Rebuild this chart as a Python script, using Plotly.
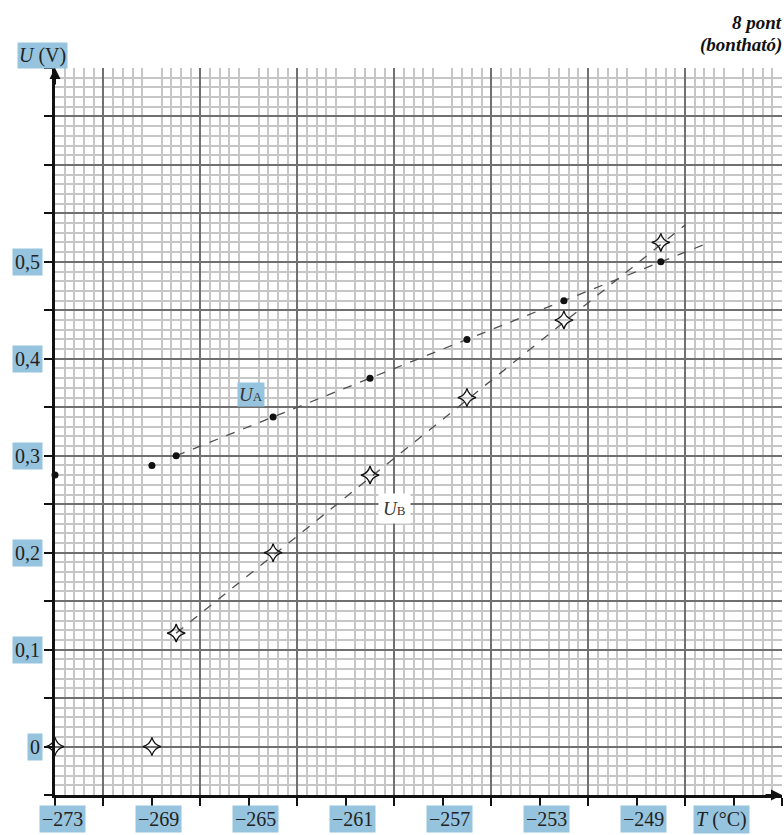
import plotly.graph_objects as go

# ---- data ----
T_A = [-273, -269, -268, -264, -260, -256, -252, -248]
U_A = [0.28, 0.29, 0.30, 0.34, 0.38, 0.42, 0.46, 0.50]
T_B = [-273, -269, -268, -264, -260, -256, -252, -248]
U_B = [0.0, 0.0, 0.117, 0.20, 0.28, 0.36, 0.44, 0.52]
fitA_T = [-268, -246]
fitA_U = [0.30, 0.52]
fitB_T = [-268, -247]
fitB_U = [0.117, 0.538]
x_label_vals = [-273, -269, -265, -261, -257, -253, -249]
x_label_text = ["\u2212273", "\u2212269", "\u2212265", "\u2212261", "\u2212257", "\u2212253", "\u2212249"]
y_label_vals = [0, 0.1, 0.2, 0.3, 0.4, 0.5]
y_label_text = ["0", "0,1", "0,2", "0,3", "0,4", "0,5"]

SERIF = "'Times New Roman', 'Liberation Serif', 'DejaVu Serif', serif"
HL = "rgb(150,196,222)"
LIGHT = "#c6c6c6"
DARK = "#707070"

fig = go.Figure()

fig.add_trace(go.Scatter(x=fitA_T, y=fitA_U, mode="lines",
                         line=dict(color="#505050", width=1.3, dash="dash"), showlegend=False))
fig.add_trace(go.Scatter(x=fitB_T, y=fitB_U, mode="lines",
                         line=dict(color="#505050", width=1.3, dash="dash"), showlegend=False))
fig.add_trace(go.Scatter(x=T_A, y=U_A, mode="markers", cliponaxis=False,
                         marker=dict(symbol="circle", size=7, color="#111"), showlegend=False))
fig.add_trace(go.Scatter(x=T_B, y=U_B, mode="markers", cliponaxis=False,
                         marker=dict(symbol="star-diamond-open", size=13, color="#111",
                                     line=dict(width=1.3, color="#111")), showlegend=False))
# invisible trace on the overlay axis so its grid is drawn
fig.add_trace(go.Scatter(x=fitA_T, y=fitA_U, xaxis="x2", mode="markers",
                         marker=dict(opacity=0), hoverinfo="skip", showlegend=False))

annotations = []
for v, t in zip(x_label_vals, x_label_text):
    annotations.append(dict(x=v, y=0, xref="x", yref="paper", text=t, showarrow=False,
                            xanchor="center", yanchor="top", xshift=7, yshift=-10,
                            bgcolor=HL, borderpad=2,
                            font=dict(family=SERIF, size=20, color="#222")))
annotations.append(dict(x=-245.5, y=0, xref="x", yref="paper",
                        text="<i>T</i> (°C)", showarrow=False,
                        xanchor="center", yanchor="top", yshift=-10,
                        bgcolor=HL, borderpad=2, font=dict(family=SERIF, size=20, color="#222")))
for v, t in zip(y_label_vals, y_label_text):
    annotations.append(dict(x=0, y=v, xref="paper", yref="y", text=t, showarrow=False,
                            xanchor="right", yanchor="middle", xshift=-12,
                            bgcolor=HL, borderpad=2,
                            font=dict(family=SERIF, size=20, color="#222")))
annotations.append(dict(x=0, y=1, xref="paper", yref="paper",
                        text="<i>U</i> (V)", showarrow=False,
                        xanchor="right", yanchor="bottom", xshift=13, yshift=-1,
                        bgcolor=HL, borderpad=1,
                        font=dict(family=SERIF, size=20, color="#222")))
# curve labels
annotations.append(dict(x=-264.9, y=0.363, xref="x", yref="y",
                        text="<i>U</i><span style='font-size:13px'>A</span>", showarrow=False,
                        bgcolor=HL, borderpad=1, font=dict(family=SERIF, size=19, color="#333")))
annotations.append(dict(x=-259.0, y=0.246, xref="x", yref="y",
                        text="<i>U</i><span style='font-size:13px'>B</span>", showarrow=False,
                        bgcolor="white", borderpad=4, font=dict(family=SERIF, size=19, color="#333")))
# header
annotations.append(dict(x=1, y=1, xref="paper", yref="paper", text="<b><i>8 pont</i></b>",
                        showarrow=False, xanchor="right", yanchor="middle", xshift=2, yshift=46,
                        font=dict(family=SERIF, size=19, color="#111")))
annotations.append(dict(x=1, y=1, xref="paper", yref="paper", text="<b><i>(bontható)</i></b>",
                        showarrow=False, xanchor="right", yanchor="middle", xshift=2, yshift=23,
                        font=dict(family=SERIF, size=19, color="#111")))
# axis arrows
annotations.append(dict(x=0, y=1, xref="paper", yref="paper", ax=0, ay=18, text="",
                        showarrow=True, arrowhead=2, arrowsize=1.1, arrowwidth=2, arrowcolor="#111"))
annotations.append(dict(x=1, y=0, xref="paper", yref="paper", ax=-18, ay=0, text="",
                        showarrow=True, arrowhead=2, arrowsize=1.1, arrowwidth=2, arrowcolor="#111"))

fig.update_layout(
    width=784, height=835,
    margin=dict(l=55, r=2, t=68, b=40),
    paper_bgcolor="white", plot_bgcolor="white",
    showlegend=False,
    font=dict(family=SERIF),
    annotations=annotations,
    xaxis=dict(range=[-273, -243], tick0=-273, dtick=2, ticks="outside", ticklen=8,
               tickwidth=2, tickcolor="#111", showticklabels=False, showgrid=False,
               showline=True, linecolor="#111", linewidth=2.5, zeroline=False,
               minor=dict(tick0=-273, dtick=0.4, showgrid=True, gridcolor=LIGHT, gridwidth=1.6)),
    xaxis2=dict(overlaying="x", matches="x", range=[-273, -243], tick0=-271, dtick=4,
                showgrid=True, gridcolor=DARK, gridwidth=1.5, showticklabels=False,
                ticks="", zeroline=False, showline=False),
    yaxis=dict(range=[-0.05, 0.7], tick0=0, dtick=0.05, ticks="outside", ticklen=8,
               tickwidth=2, tickcolor="#111", showticklabels=False, showgrid=True,
               gridcolor=DARK, gridwidth=1.5,
               showline=True, linecolor="#111", linewidth=2.5, zeroline=False,
               minor=dict(tick0=0, dtick=0.01, showgrid=True, gridcolor=LIGHT, gridwidth=1.6)),
)

fig.write_html("out.html", config={"displayModeBar": False},
               post_script="document.body.style.margin='0';document.body.style.overflow='hidden';")
